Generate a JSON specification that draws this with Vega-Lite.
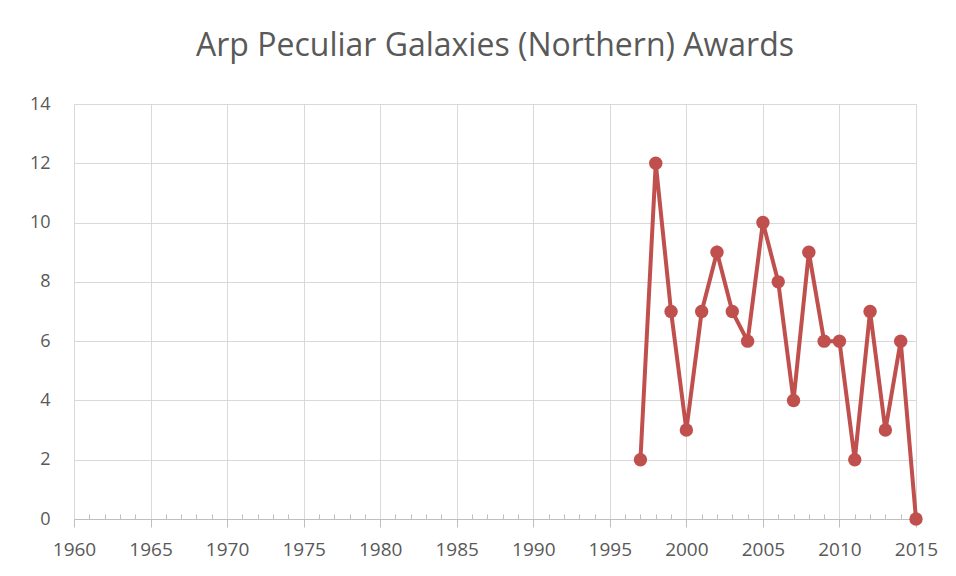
{
  "$schema": "https://vega.github.io/schema/vega-lite/v6.json",
  "width": 842,
  "height": 415,
  "autosize": "none",
  "padding": {"left": 74, "top": 104, "right": 40, "bottom": 57},
  "background": "white",
  "title": {"text": "Arp Peculiar Galaxies (Northern) Awards", "font": "Open Sans", "fontSize": 32, "fontWeight": "normal", "color": "#595959", "offset": 32},
  "config": {
    "view": {"stroke": null},
    "axis": {"labelFont": "Open Sans", "labelColor": "#595959", "titleFont": "Open Sans"}
  },
  "data": {"values": [
    {"year": 1997, "awards": 2},
    {"year": 1998, "awards": 12},
    {"year": 1999, "awards": 7},
    {"year": 2000, "awards": 3},
    {"year": 2001, "awards": 7},
    {"year": 2002, "awards": 9},
    {"year": 2003, "awards": 7},
    {"year": 2004, "awards": 6},
    {"year": 2005, "awards": 10},
    {"year": 2006, "awards": 8},
    {"year": 2007, "awards": 4},
    {"year": 2008, "awards": 9},
    {"year": 2009, "awards": 6},
    {"year": 2010, "awards": 6},
    {"year": 2011, "awards": 2},
    {"year": 2012, "awards": 7},
    {"year": 2013, "awards": 3},
    {"year": 2014, "awards": 6},
    {"year": 2015, "awards": 0}
  ]},
  "encoding": {
    "x": {
      "field": "year", "type": "quantitative",
      "scale": {"domain": [1960, 2015], "nice": false, "zero": false},
      "axis": {
        "title": null,
        "values": [1960,1961,1962,1963,1964,1965,1966,1967,1968,1969,1970,1971,1972,1973,1974,1975,1976,1977,1978,1979,1980,1981,1982,1983,1984,1985,1986,1987,1988,1989,1990,1991,1992,1993,1994,1995,1996,1997,1998,1999,2000,2001,2002,2003,2004,2005,2006,2007,2008,2009,2010,2011,2012,2013,2014,2015],
        "format": "d",
        "labelExpr": "datum.value % 5 === 0 ? datum.label : ''",
        "labelOverlap": false,
        "labelFlush": false,
        "labelFontSize": 19,
        "labelPadding": 13,
        "domainColor": "#bfbfbf",
        "tickColor": "#bfbfbf",
        "tickSize": {"condition": {"test": "datum.value % 5 === 0", "value": 8}, "value": -5},
        "grid": true,
        "gridColor": "#d9d9d9",
        "gridOpacity": {"condition": {"test": "datum.value % 5 === 0", "value": 1}, "value": 0}
      }
    },
    "y": {
      "field": "awards", "type": "quantitative",
      "scale": {"domain": [0, 14], "nice": false},
      "axis": {
        "title": null,
        "values": [0, 2, 4, 6, 8, 10, 12, 14],
        "domain": false,
        "ticks": false,
        "labelFontSize": 18,
        "labelPadding": 24,
        "gridColor": "#d9d9d9"
      }
    }
  },
  "layer": [
    {"mark": {"type": "line", "color": "#C0504D", "strokeWidth": 4}},
    {"mark": {"type": "point", "filled": true, "opacity": 1, "color": "#C0504D", "size": 180}}
  ]
}
